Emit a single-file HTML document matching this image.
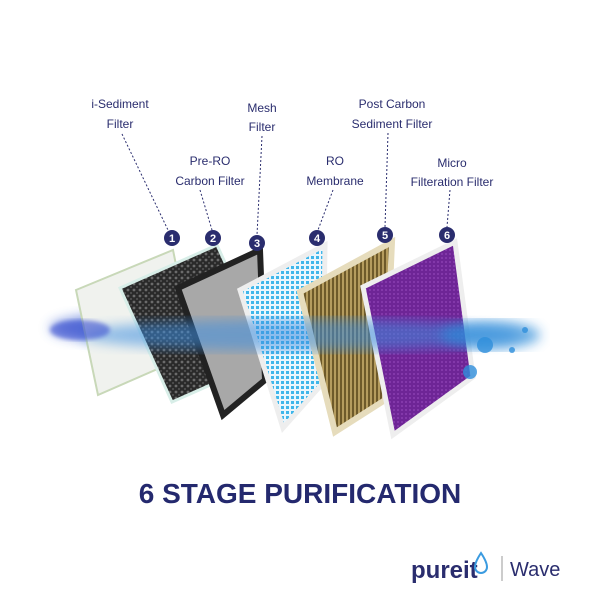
<!DOCTYPE html>
<html><head><style>
body{margin:0;background:#fff;width:600px;height:600px;overflow:hidden;font-family:"Liberation Sans",sans-serif}
</style></head><body>
<svg width="600" height="600" viewBox="0 0 600 600" xmlns="http://www.w3.org/2000/svg">
<defs>
<filter id="b"><feGaussianBlur stdDeviation="6"/></filter>
<filter id="b2"><feGaussianBlur stdDeviation="2"/></filter>
<pattern id="dots" width="5" height="5" patternUnits="userSpaceOnUse"><rect width="5" height="5" fill="#eaf6fd"/><rect x="1" y="1" width="3" height="3" fill="#3fb6ea"/></pattern>
<pattern id="pdots" width="4" height="4" patternUnits="userSpaceOnUse"><rect width="4" height="4" fill="#6e2596"/><circle cx="2" cy="2" r="1" fill="#8a3db0"/></pattern>
<pattern id="stripes" width="4" height="4" patternUnits="userSpaceOnUse"><rect width="4" height="4" fill="#b59c5e"/><rect width="2" height="4" fill="#6e5a2a"/></pattern>
<pattern id="foam" width="6" height="6" patternUnits="userSpaceOnUse"><rect width="6" height="6" fill="#2a2a2a"/><circle cx="2" cy="2" r="1.4" fill="#6b6b6b"/><circle cx="5" cy="5" r="1" fill="#555"/></pattern>
</defs>
<g fill="#2a2d6e" font-size="12" text-anchor="middle">
<text x="120" y="108">i-Sediment</text><text x="120" y="128">Filter</text>
<text x="210" y="165">Pre-RO</text><text x="210" y="185">Carbon Filter</text>
<text x="262" y="112">Mesh</text><text x="262" y="131">Filter</text>
<text x="335" y="165">RO</text><text x="335" y="185">Membrane</text>
<text x="392" y="108">Post Carbon</text><text x="392" y="128">Sediment Filter</text>
<text x="452" y="167">Micro</text><text x="452" y="186">Filteration Filter</text>
</g>
<g stroke="#2a2d6e" stroke-dasharray="2,2" stroke-width="1" fill="none">
<path d="M122 134 L168 230"/><path d="M200 190 L212 230"/><path d="M262 136 L257 235"/>
<path d="M333 190 L318 230"/><path d="M388 133 L385 227"/><path d="M450 190 L447 227"/>
</g>
<ellipse cx="200" cy="328" rx="150" ry="18" fill="#3a5fd0" opacity=".7" filter="url(#b)"/>
<polygon points="76,290 173,250 194,353 98,395" fill="#f0f2ee" stroke="#c8d8b8" stroke-width="2"/>
<polygon points="120,288 217,245 269,359 172,402" fill="url(#foam)" stroke="#d8eee8" stroke-width="3"/>
<polygon points="178,288 260,250 265,380 223,415" fill="#a8a8a8" stroke="#222" stroke-width="6"/>
<polygon points="240,290 325,245 323,383 283,428" fill="url(#dots)" stroke="#eee" stroke-width="5"/>
<polygon points="300,292 392,242 385,400 335,432" fill="url(#stripes)" stroke="#e6dcbc" stroke-width="6"/>
<polygon points="363,287 455,242 473,377 393,435" fill="url(#pdots)" stroke="#eeeeee" stroke-width="5"/>
<ellipse cx="300" cy="335" rx="220" ry="16" fill="#3d8ee0" opacity=".55" filter="url(#b)"/>
<ellipse cx="490" cy="335" rx="50" ry="14" fill="#2a8ad8" opacity=".7" filter="url(#b)"/>
<g fill="#2f8fdc" opacity=".8"><circle cx="485" cy="345" r="8"/><circle cx="470" cy="372" r="7"/><circle cx="512" cy="350" r="3"/><circle cx="525" cy="330" r="3"/></g>
<ellipse cx="80" cy="330" rx="30" ry="10" fill="#3a4fd0" opacity=".6" filter="url(#b2)"/>
<g fill="#2a2d6e">
<circle cx="172" cy="238" r="8"/><circle cx="213" cy="238" r="8"/><circle cx="257" cy="243" r="8"/>
<circle cx="317" cy="238" r="8"/><circle cx="385" cy="235" r="8"/><circle cx="447" cy="235" r="8"/>
</g>
<g fill="#fff" font-size="11" font-weight="bold" text-anchor="middle">
<text x="172" y="242">1</text><text x="213" y="242">2</text><text x="257" y="247">3</text>
<text x="317" y="242">4</text><text x="385" y="239">5</text><text x="447" y="239">6</text>
</g>
<text x="300" y="503" text-anchor="middle" font-size="28" font-weight="bold" fill="#24296e">6 STAGE PURIFICATION</text>
<text x="411" y="578" font-size="24" font-weight="bold" fill="#2a2d6e">pureit</text>
<path d="M481 553 q-6 9 -6 14 a6 6 0 0 0 12 0 q0 -5 -6 -14z" fill="none" stroke="#3b9be0" stroke-width="2"/>
<line x1="502" y1="556" x2="502" y2="581" stroke="#999" stroke-width="1"/>
<text x="510" y="576" font-size="20" fill="#2a2d6e">Wave</text>
</svg>
</body></html>
